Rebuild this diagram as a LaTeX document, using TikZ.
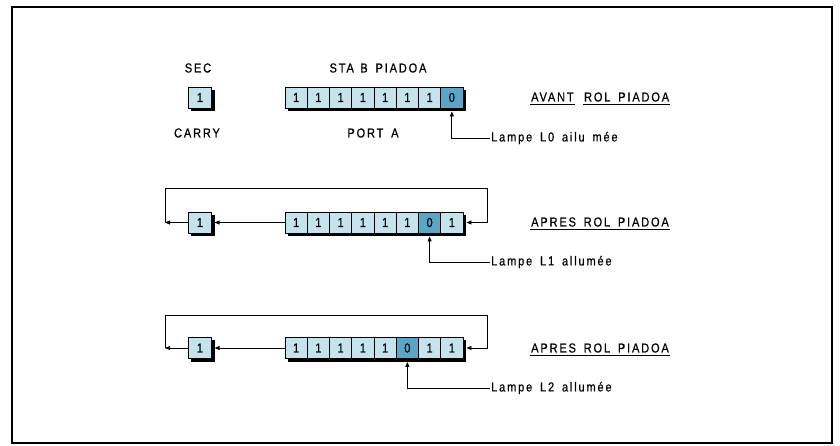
\documentclass[tikz,border=0pt]{standalone}
\usepackage{fontspec}
\usepackage{tikz}
\usetikzlibrary{arrows.meta}
\usepackage{xcolor}
\newfontfamily\lettering[FakeStretch=0.85, LetterSpace=14, WordSpace=1.6, FakeBold=0.6]{Liberation Sans}
\definecolor{cellpale}{RGB}{197,227,236}
\definecolor{celldark}{RGB}{90,166,198}
\pgfdeclarelayer{background}
\pgfsetlayers{background,main}

\begin{document}
\begin{tikzpicture}[
  x=1pt, y=-1pt,
  every node/.style={font=\lettering\fontsize{13}{15}\selectfont},
  cell/.style={draw, line width=0.9pt, minimum width=22.25pt, minimum height=21pt, inner sep=0pt},
  b1/.style={cell, fill=cellpale},
  b0/.style={cell, fill=celldark},
  txt/.style={inner sep=1pt},
  >={Triangle[length=5pt,width=4pt]}
]
\useasboundingbox (0,0) rectangle (840,446);
\draw[line width=1.6pt] (12,7) rectangle (832,443);

% avant ROL
\node[b1] (c1) at (200,97.5) {1};
\foreach \b [count=\i] in {1,1,1,1,1,1,1,0}
  \node[b\b] (r1-\i) at (273.875+22.25*\i,97.5) {\b};
\node[txt] (sec) at (198,68) {SEC};
\node[txt] (sta) at (378,68) {STA\enspace B PIADOA};
\node[txt] (carry) at (197,133) {CARRY};
\node[txt] (port) at (373,133) {PORT A};
\node[txt, anchor=west] (av) at (530,97) {AVANT};
\node[txt, anchor=west] (rol1) at ([xshift=8pt]av.east) {ROL PIADOA};
\draw[line width=0.8pt] ([yshift=-2pt]av.south west) -- ([yshift=-2pt]av.south east);
\draw[line width=0.8pt] ([yshift=-2pt]rol1.south west) -- ([yshift=-2pt]rol1.south east);
\node[txt, anchor=west] (l0) at (490,138) {Lampe L0 ailu mée};
\draw[<-, line width=0.8pt] ([yshift=-3pt]r1-8.south) |- (l0.west);

% apres 1er ROL
\node[b1] (c2) at (200,222.5) {1};
\foreach \b [count=\i] in {1,1,1,1,1,1,0,1}
  \node[b\b] (r2-\i) at (273.875+22.25*\i,222.5) {\b};
\coordinate (k2) at (165,222.5);
\draw[->, line width=0.8pt] (r2-1.west) -- ([xshift=3pt]c2.east);
\draw[->, line width=0.8pt] (c2.west) -- (k2);
\draw[->, line width=0.8pt] (k2) -- ++(0,-34.5) -| ([xshift=24pt]r2-8.east) -- ([xshift=3pt]r2-8.east);
\node[txt, anchor=west] (ap2) at (530,222) {APRES ROL PIADOA};
\draw[line width=0.8pt] ([yshift=-2pt]ap2.south west) -- ([yshift=-2pt]ap2.south east);
\node[txt, anchor=west] (l1) at (490,262) {Lampe L1 allumée};
\draw[<-, line width=0.8pt] ([yshift=-3pt]r2-7.south) |- (l1.west);

% apres 2e ROL
\node[b1] (c3) at (200,348) {1};
\foreach \b [count=\i] in {1,1,1,1,1,0,1,1}
  \node[b\b] (r3-\i) at (273.875+22.25*\i,348) {\b};
\coordinate (k3) at (165,348);
\draw[->, line width=0.8pt] (r3-1.west) -- ([xshift=3pt]c3.east);
\draw[->, line width=0.8pt] (c3.west) -- (k3);
\draw[->, line width=0.8pt] (k3) -- ++(0,-33) -| ([xshift=24pt]r3-8.east) -- ([xshift=3pt]r3-8.east);
\node[txt, anchor=west] (ap3) at (530,348) {APRES ROL PIADOA};
\draw[line width=0.8pt] ([yshift=-2pt]ap3.south west) -- ([yshift=-2pt]ap3.south east);
\node[txt, anchor=west] (l2) at (490,388) {Lampe L2 allumée};
\draw[<-, line width=0.8pt] ([yshift=-3pt]r3-6.south) |- (l2.west);

% ombres
\begin{pgfonlayer}{background}
  \foreach \r in {1,2,3} {
    \fill ([xshift=3pt,yshift=-3pt]c\r.north west) rectangle ([xshift=3pt,yshift=-3pt]c\r.south east);
    \fill ([xshift=3pt,yshift=-3pt]r\r-1.north west) rectangle ([xshift=3pt,yshift=-3pt]r\r-8.south east);
  }
\end{pgfonlayer}
\end{tikzpicture}
\end{document}
